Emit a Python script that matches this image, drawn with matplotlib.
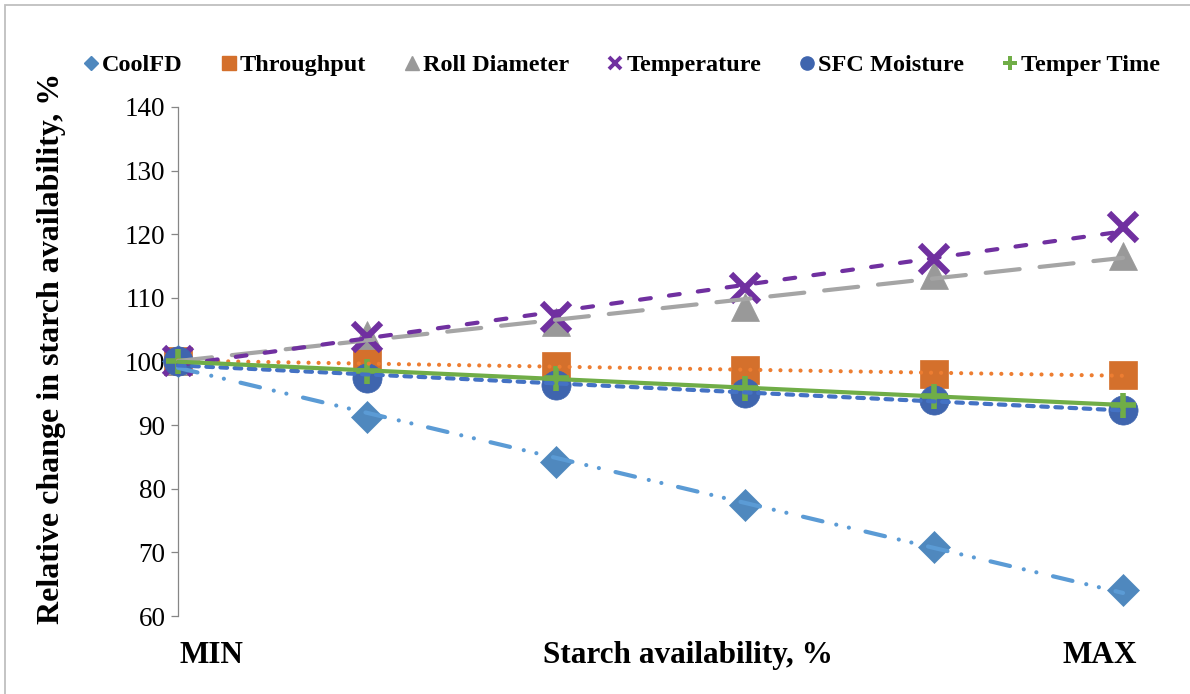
import matplotlib.pyplot as plt
import numpy as np
from matplotlib.lines import Line2D
from matplotlib.patches import Rectangle

plt.rcParams['font.family'] = ['Liberation Serif', 'DejaVu Serif']

# relative change (%) at six levels of starch availability, MIN -> MAX
steps = [0, 1, 2, 3, 4, 5]
coolfd = [100, 91.3, 84.2, 77.5, 70.8, 64.1]
throughput = [100, 99.8, 99.3, 98.7, 98.1, 97.8]
roll_diameter = [100, 104.2, 106.2, 108.5, 113.6, 116.6]
temperature = [100, 103.9, 107.0, 111.5, 116.1, 121.2]
sfc_moisture = [100, 97.4, 96.3, 95.0, 94.0, 92.4]
temper_time = [100, 98.5, 97.4, 95.8, 94.5, 93.2]
names = ['CoolFD', 'Throughput', 'Roll Diameter', 'Temperature', 'SFC Moisture', 'Temper Time']
yticks = [60, 70, 80, 90, 100, 110, 120, 130, 140]

# marker style, marker size, marker colour, trendline colour, dash pattern
styles = [
    ('D', 16.5, '#4F88BE', '#5B9BD5', (4.8, 3.4, 0.01, 3.1, 0.01, 4.1)),
    ('s', 19.5, '#D4702C', '#ED7D31', (0.01, 2.4)),
    ('^', 20, '#999999', '#A5A5A5', (8.2, 4.8)),
    ('x', 19.5, '#7030A0', '#7030A0', (2.6, 4.4)),
    ('o', 21, '#3F65AE', '#4472C4', (1.6, 1.8)),
    ('P', 18, '#70AD47', '#70AD47', None),
]
series = [coolfd, throughput, roll_diameter, temperature, sfc_moisture, temper_time]

fig = plt.figure(figsize=(11.9, 6.94), dpi=100)
ax = fig.add_axes([178 / 1190, 78 / 694, 945 / 1190, 509 / 694])

x = np.array(steps, dtype=float)
for vals, (mk, ms, mc, lc, dash) in zip(series, styles):
    if mk == 'x':
        ax.plot(x, vals, linestyle='none', marker='x', ms=ms, mew=4.5, mec=mc,
                zorder=3, clip_on=False)
    elif mk == 'P':
        ax.plot(x, vals, linestyle='none', marker='+', ms=ms, mew=4, mec=mc,
                zorder=3, clip_on=False)
    else:
        ax.plot(x, vals, linestyle='none', marker=mk, ms=ms, mfc=mc, mec=mc,
                mew=0.5, zorder=3, clip_on=False)

# linear trendlines on top of the markers
for vals, (mk, ms, mc, lc, dash) in zip(series, styles):
    k, b = np.polyfit(x, vals, 1)
    ln, = ax.plot([x[0], x[-1]], [b + k * x[0], b + k * x[-1]], color=lc, lw=3,
                  solid_capstyle='round', dash_capstyle='round', zorder=4, clip_on=False)
    if dash is not None:
        ln.set_dashes(dash)

ax.set_xlim(0, 5)
ax.set_ylim(60, 140)
ax.set_yticks(yticks)
ax.set_xticks([])
for s in ['top', 'right', 'bottom']:
    ax.spines[s].set_visible(False)
ax.spines['left'].set_color('#868686')
ax.spines['left'].set_linewidth(0.9)
ax.tick_params(axis='y', length=5, width=0.9, color='#868686', labelsize=19.5, pad=4)

fig.text(52 / 1190, 346 / 694, 'Relative change in starch availability, %', rotation=90,
         ha='center', va='center', fontsize=23, fontweight='bold')
fig.text(211 / 1190, 31 / 694, 'MIN', ha='center', va='baseline', fontsize=22.5, fontweight='bold')
fig.text(688 / 1190, 31 / 694, 'Starch availability, %', ha='center', va='baseline',
         fontsize=22.5, fontweight='bold')
fig.text(1100 / 1190, 31 / 694, 'MAX', ha='center', va='baseline', fontsize=22.5, fontweight='bold')

handles = []
for name, (mk, ms, mc, lc, dash) in zip(names, styles):
    if mk == 'x':
        h = Line2D([], [], linestyle='none', marker='x', ms=9, mew=2.8, mec=mc)
    elif mk == 'P':
        h = Line2D([], [], linestyle='none', marker='P', ms=10, mfc=mc, mec=mc, mew=0)
    else:
        h = Line2D([], [], linestyle='none', marker=mk, ms=9.5 if mk != 'D' else 7.5,
                   mfc=mc, mec=mc)
    handles.append(h)
fig.legend(handles, names, loc='center', bbox_to_anchor=(622 / 1190, 1 - 65 / 694), ncol=6,
           frameon=False, prop={'weight': 'bold', 'size': 17.5}, handlelength=0.6,
           handletextpad=0.15, columnspacing=1.6, borderpad=0)

# chart area border
fig.patches.append(Rectangle((5 / 1190, -0.1), 1.2, 1.1 - 5 / 694, transform=fig.transFigure,
                             fill=False, edgecolor='#BFBFBF', lw=1.3))

fig.savefig('out.png', dpi=100)
